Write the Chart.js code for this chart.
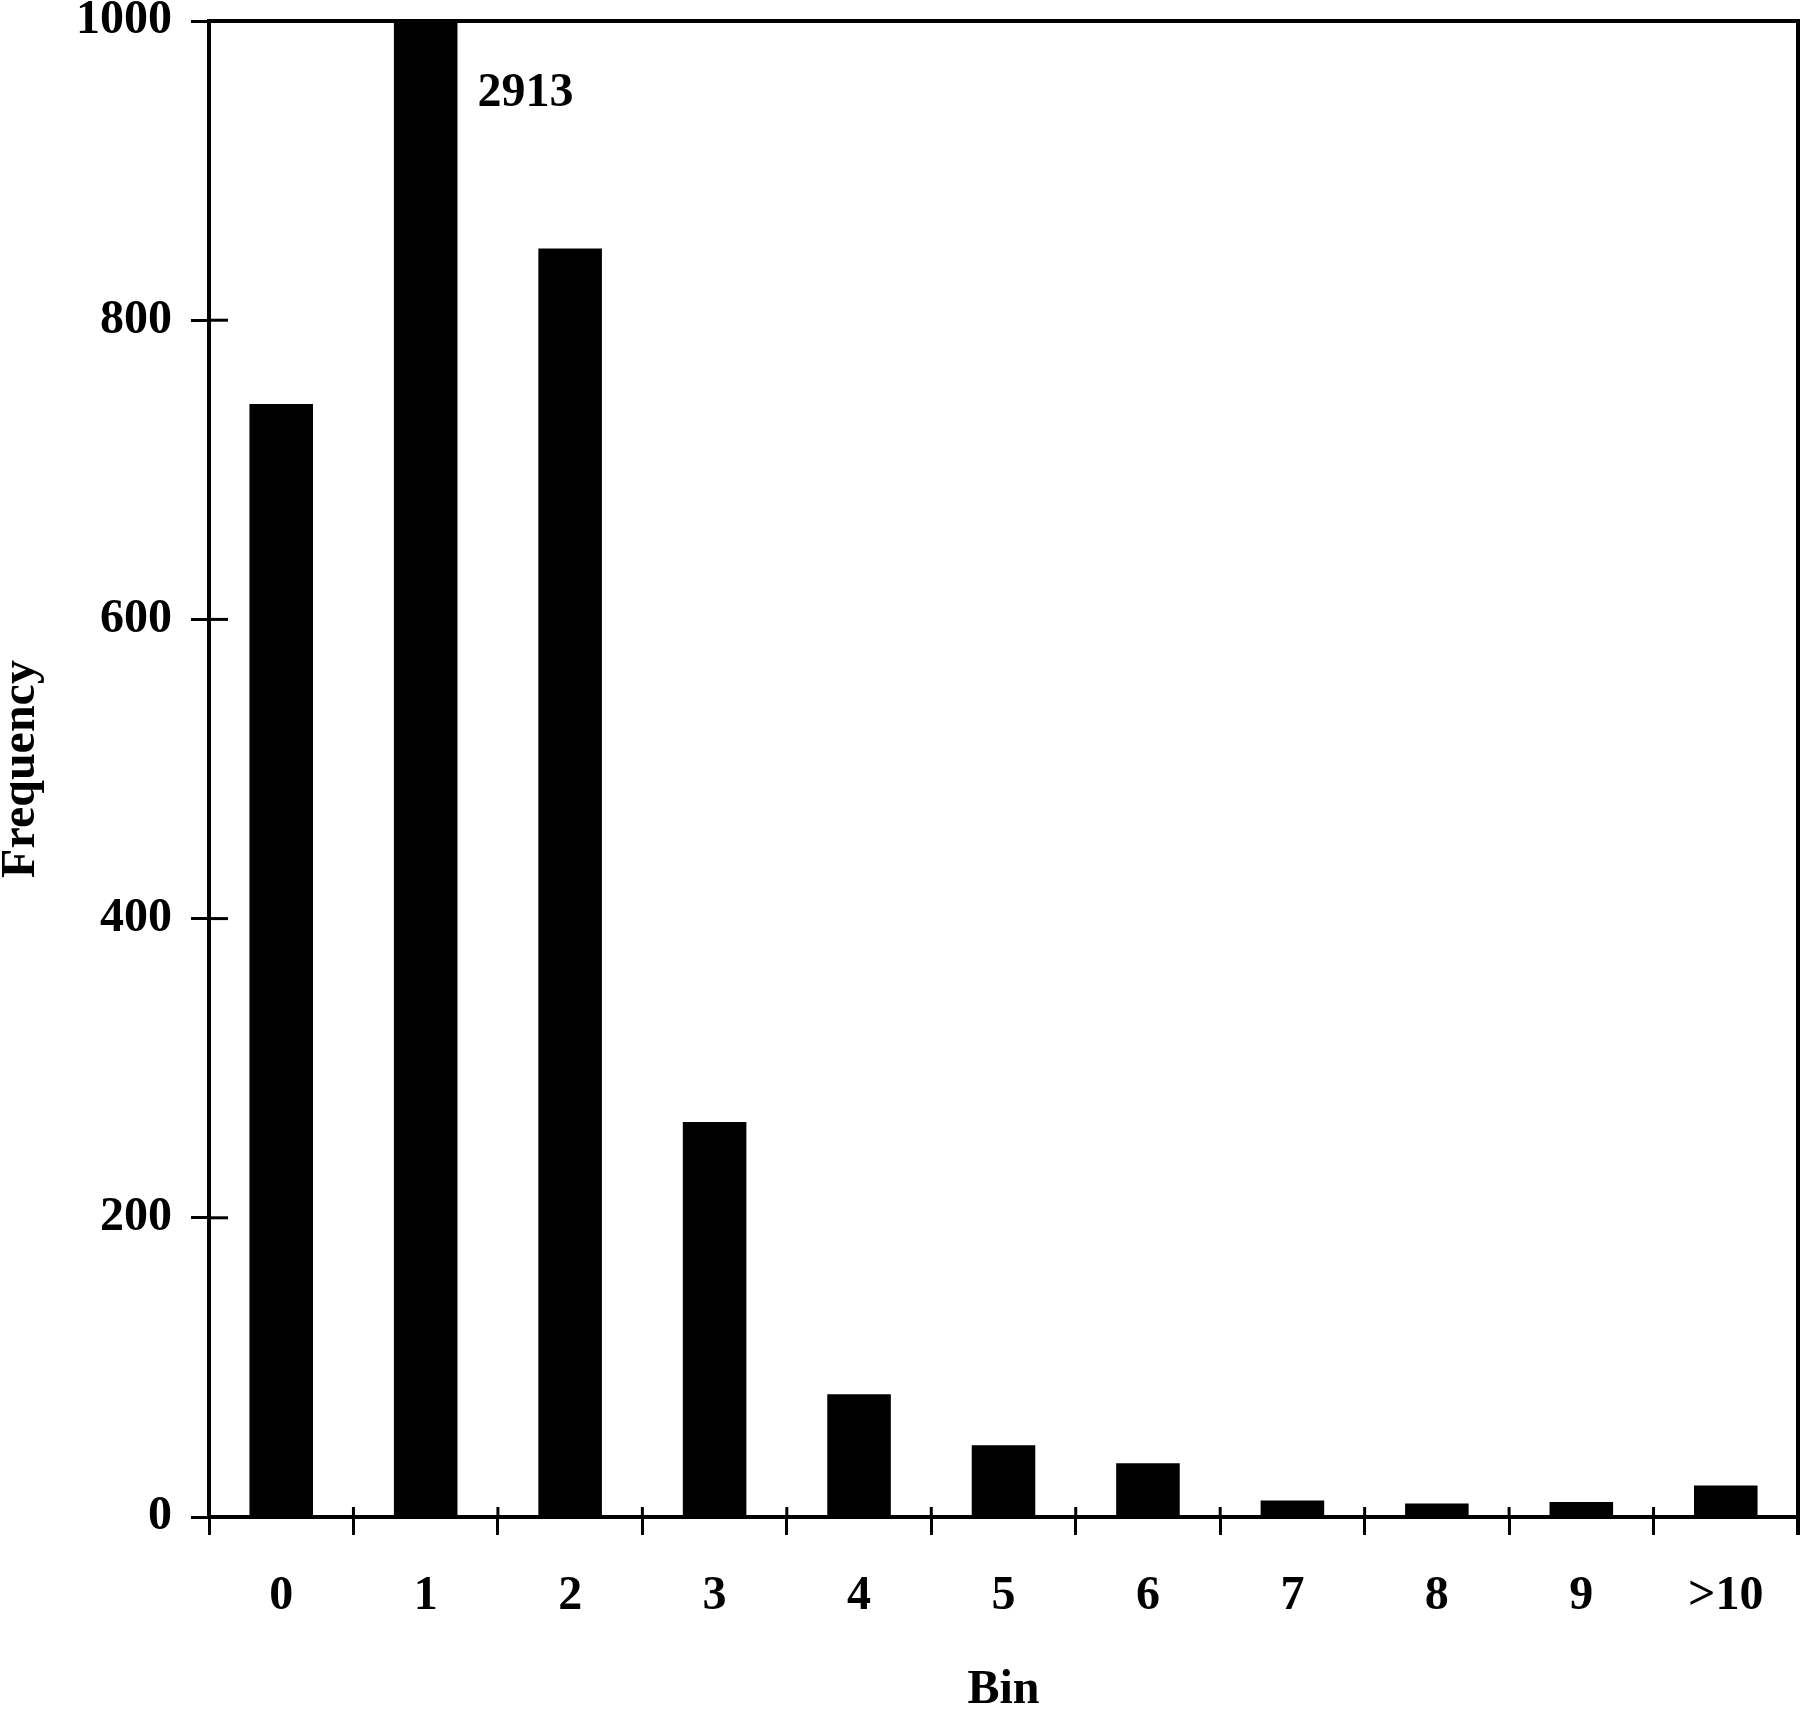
<!DOCTYPE html>
<html lang="en">
<head>
    <meta charset="UTF-8">
    <title>Frequency by Bin</title>
    <script src="https://cdn.jsdelivr.net/npm/chart.js"></script>
    <style>
        html, body {
            margin: 0;
            padding: 0;
            background: #fff;
        }
        .chart-box {
            width: 1800px;
            height: 1712px;
        }
    </style>
</head>
<body>
    <div class="chart-box">
        <canvas id="binChart"></canvas>
    </div>
    <script>
        // data
        const bins = ['0', '1', '2', '3', '4', '5', '6', '7', '8', '9', '>10'];
        const frequency = [744, 2913, 848, 264, 82, 48, 36, 11, 9, 10, 21];
        const yMin = 0;
        const yMax = 1000;
        const yStep = 200;

        const serif = 'Liberation Serif, Times New Roman, serif';

        // short inward ticks, the top/right frame and the label for clipped bars
        const framePlugin = {
            id: 'framePlugin',
            afterDraw(chart) {
                const ctx = chart.ctx;
                const area = chart.chartArea;
                const x = chart.scales.x;
                const y = chart.scales.y;

                ctx.save();
                ctx.strokeStyle = '#000';

                // frame
                ctx.lineWidth = 4;
                ctx.beginPath();
                ctx.moveTo(area.left - 2, area.top);
                ctx.lineTo(area.right, area.top);
                ctx.lineTo(area.right, area.bottom + 18);
                ctx.stroke();

                // inward part of the ticks
                ctx.lineWidth = 3;
                const half = (x.getPixelForTick(1) - x.getPixelForTick(0)) / 2;
                for (let i = 0; i <= bins.length; i++) {
                    const px = i < bins.length ? x.getPixelForTick(i) - half : x.getPixelForTick(bins.length - 1) + half;
                    ctx.beginPath();
                    ctx.moveTo(px, area.bottom);
                    ctx.lineTo(px, area.bottom - 10);
                    ctx.stroke();
                }
                y.ticks.forEach((t, i) => {
                    const py = y.getPixelForTick(i);
                    ctx.beginPath();
                    ctx.moveTo(area.left, py);
                    ctx.lineTo(area.left + 19, py);
                    ctx.stroke();
                });

                // value of bars running off the top
                const meta = chart.getDatasetMeta(0);
                ctx.fillStyle = '#000';
                ctx.font = 'bold 48px ' + serif;
                ctx.textAlign = 'left';
                ctx.textBaseline = 'middle';
                frequency.forEach((v, i) => {
                    if (v > yMax) {
                        const bar = meta.data[i];
                        ctx.fillText(String(v), bar.x + bar.width / 2 + 20, area.top + 73);
                    }
                });
                ctx.restore();
            }
        };

        const ctx = document.getElementById('binChart').getContext('2d');
        const binChart = new Chart(ctx, {
            type: 'bar',
            data: {
                labels: bins,
                datasets: [{
                    label: 'Frequency',
                    data: frequency,
                    backgroundColor: '#000',
                    borderWidth: 0,
                    categoryPercentage: 1,
                    barPercentage: 0.44
                }]
            },
            options: {
                responsive: true,
                maintainAspectRatio: false,
                animation: false,
                layout: {
                    padding: { left: 0, right: 2, top: 21, bottom: 0 }
                },
                plugins: {
                    legend: { display: false },
                    tooltip: { enabled: false }
                },
                scales: {
                    x: {
                        grid: {
                            offset: true,
                            drawOnChartArea: false,
                            drawTicks: true,
                            tickLength: 18,
                            color: '#000',
                            lineWidth: 3
                        },
                        border: { display: true, color: '#000', width: 4 },
                        ticks: {
                            color: '#000',
                            padding: 42,
                            font: { family: serif, size: 48, weight: 'bold', lineHeight: 0.8 }
                        },
                        title: {
                            display: true,
                            text: 'Bin',
                            color: '#000',
                            padding: 0,
                            font: { family: serif, size: 48, weight: 'bold', lineHeight: 0.9 }
                        },
                        afterFit(scale) {
                            scale.height = 195;
                            scale.paddingLeft = 0;
                            scale.paddingRight = 0;
                        }
                    },
                    y: {
                        min: yMin,
                        max: yMax,
                        grid: {
                            drawOnChartArea: false,
                            drawTicks: true,
                            tickLength: 18,
                            color: '#000',
                            lineWidth: 3
                        },
                        border: { display: true, color: '#000', width: 4 },
                        ticks: {
                            stepSize: yStep,
                            color: '#000',
                            padding: 19,
                            font: { family: serif, size: 48, weight: 'bold', lineHeight: 0.8 },
                            callback: (value) => String(value)
                        },
                        title: {
                            display: true,
                            text: 'Frequency',
                            color: '#000',
                            padding: 0,
                            font: { family: serif, size: 48, weight: 'bold', lineHeight: 0.9 }
                        },
                        afterFit(scale) {
                            scale.width = 209;
                            scale.paddingTop = 0;
                            scale.paddingBottom = 0;
                        }
                    }
                }
            },
            plugins: [framePlugin]
        });
    </script>
</body>
</html>
